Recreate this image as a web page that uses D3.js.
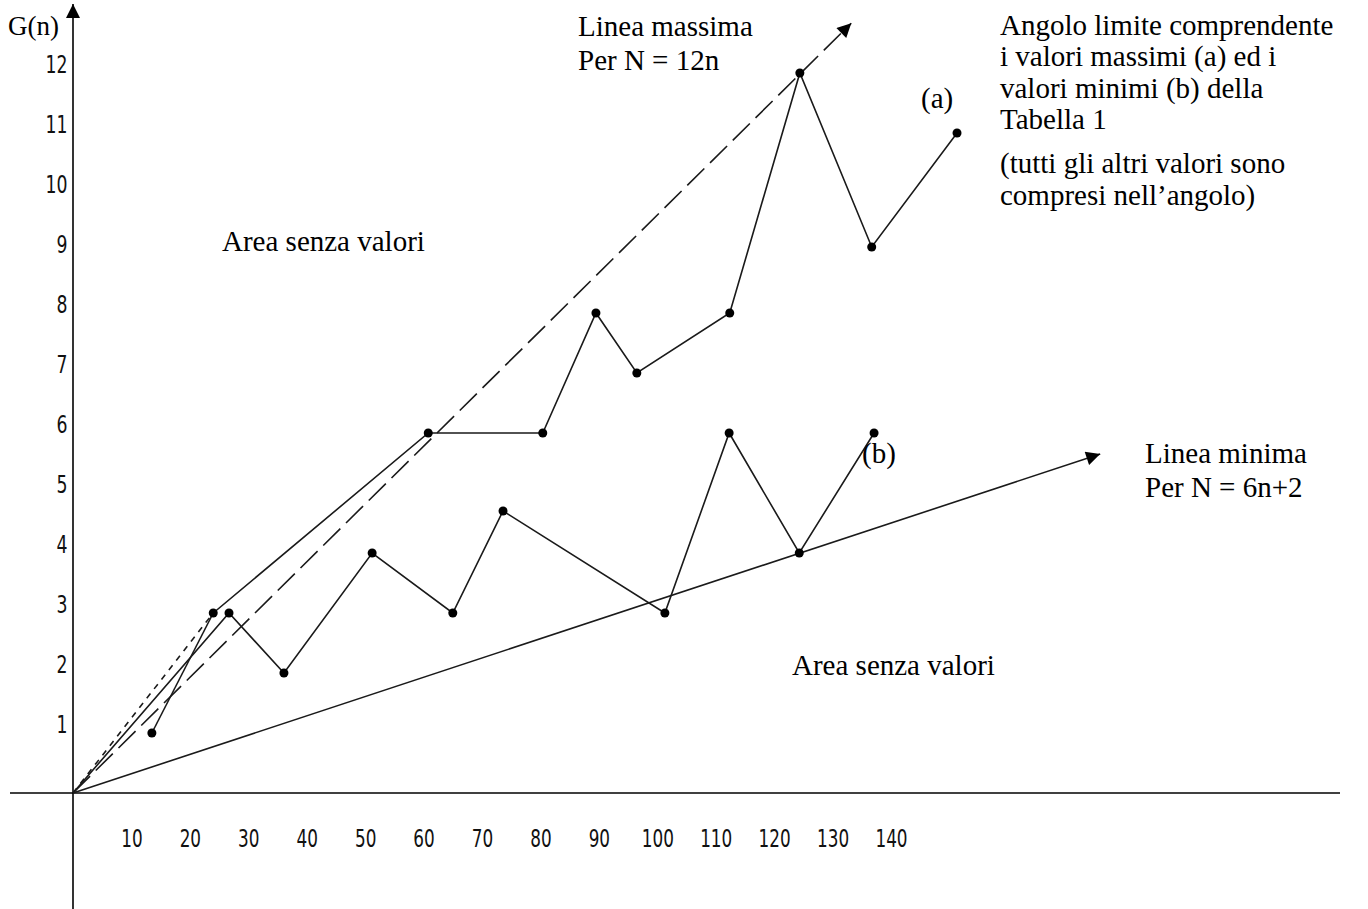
<!DOCTYPE html>
<html lang="it">
<head>
<meta charset="UTF-8">
<title>G(n) - Angolo limite</title>
<style>
  body { margin: 0; background: #fff; }
  .serie { fill: none; stroke: #1a1a1a; stroke-width: 1.6px; }
  .punto { fill: #000; }
  .tick text { font-family: 'DejaVu Sans Condensed', 'DejaVu Sans', sans-serif; font-size: 24px; fill: #111; }
  .nota { font-family: 'Liberation Serif', 'Times New Roman', serif; font-size: 29px; fill: #000; }
</style>
</head>
<body>
<svg id="grafico" width="1368" height="909"></svg>
<script src="https://d3js.org/d3.v7.min.js"></script>
<script>
// valori
const xTicks = [10, 20, 30, 40, 50, 60, 70, 80, 90, 100, 110, 120, 130, 140];
const yTicks = [1, 2, 3, 4, 5, 6, 7, 8, 9, 10, 11, 12];

// valori massimi (a)
const maxN = [24, 60.8, 80.4, 89.5, 96.5, 112.4, 124.4, 136.7, 151.3];
const maxG = [3, 6, 6, 8, 7, 8, 12, 9.1, 11];

// valori minimi (b)
const minN = [26.7, 36.1, 51.2, 65, 73.6, 101.3, 112.3, 124.3, 137.1];
const minG = [3, 2, 4, 3, 4.7, 3, 6, 4, 6];

// primo tratto
const startN = [13.5, 24];
const startG = [1, 3];

// linee limite (fine freccia)
const lineaMassima = [133.2, 12.83];
const lineaMinima = [175.8, 5.65];

const svg = d3.select('#grafico');

const x = d3.scaleLinear().domain([0, 140]).range([73, 891]);
const y = d3.scaleLinear().domain([0, 12]).range([793, 73]);

const defs = svg.append('defs');
defs.append('marker')
  .attr('id', 'freccia')
  .attr('viewBox', '0 0 10 10')
  .attr('refX', 10).attr('refY', 5)
  .attr('markerUnits', 'userSpaceOnUse')
  .attr('markerWidth', 17).attr('markerHeight', 14)
  .attr('orient', 'auto')
  .append('path').attr('d', 'M0,0 L10,5 L0,10 Z').attr('fill', '#000');

// assi
svg.append('line')
  .attr('x1', 10).attr('x2', 1340)
  .attr('y1', y(0)).attr('y2', y(0))
  .attr('stroke', '#000').attr('stroke-width', 1.6);

svg.append('line')
  .attr('x1', x(0)).attr('x2', x(0))
  .attr('y1', 909).attr('y2', y(13.15))
  .attr('stroke', '#000').attr('stroke-width', 1.6)
  .attr('marker-end', 'url(#freccia)');

const xAxis = svg.append('g')
  .attr('transform', `translate(0,${y(0)})`)
  .call(d3.axisBottom(x).tickValues(xTicks).tickSize(0).tickPadding(37).tickFormat(d3.format('d')));
xAxis.select('.domain').remove();
xAxis.selectAll('text').attr('transform', 'scale(0.78,1)');

const yAxis = svg.append('g')
  .attr('transform', `translate(${x(0)},0)`)
  .call(d3.axisLeft(y).tickValues(yTicks).tickSize(0).tickPadding(7).tickFormat(d3.format('d')));
yAxis.select('.domain').remove();
yAxis.selectAll('text').attr('y', -8).attr('transform', 'scale(0.8,1)');

const line = d3.line().x(d => x(d[0])).y(d => y(d[1]));
const origine = [0, 0];

const maxPts = maxN.map((n, i) => [n, maxG[i]]);
const minPts = minN.map((n, i) => [n, minG[i]]);
const startPts = startN.map((n, i) => [n, startG[i]]);

// linea massima (tratteggio lungo)
svg.append('path').attr('class', 'serie')
  .attr('d', line([origine, lineaMassima]))
  .attr('stroke-dasharray', '24,8')
  .attr('marker-end', 'url(#freccia)');

// linea minima
svg.append('path').attr('class', 'serie')
  .attr('d', line([origine, lineaMinima]))
  .attr('marker-end', 'url(#freccia)');

// tratto iniziale dei massimi (tratteggio corto)
svg.append('path').attr('class', 'serie')
  .attr('d', line([origine, maxPts[0]]))
  .attr('stroke-dasharray', '6,6');

svg.append('path').attr('class', 'serie').attr('d', line(maxPts));
svg.append('path').attr('class', 'serie').attr('d', line([origine].concat(minPts)));
svg.append('path').attr('class', 'serie').attr('d', line(startPts));

svg.append('g').selectAll('circle')
  .data(maxPts.concat(minPts, [startPts[0]]))
  .join('circle')
  .attr('class', 'punto')
  .attr('cx', d => x(d[0]))
  .attr('cy', d => y(d[1]))
  .attr('r', 4.5);

// testi
const note = [
  ['G(n)', 8, 35, 27],
  ['Linea massima', 578, 36],
  ['Per N = 12n', 578, 70],
  ['Angolo limite comprendente', 1000, 35],
  ['i valori massimi (a) ed i', 1000, 66],
  ['valori minimi (b) della', 1000, 98],
  ['Tabella 1', 1000, 129],
  ['(tutti gli altri valori sono', 1000, 173],
  ['compresi nell\u2019angolo)', 1000, 205],
  ['(a)', 921, 108],
  ['(b)', 862, 463],
  ['Area senza valori', 222, 251],
  ['Area senza valori', 792, 675],
  ['Linea minima', 1145, 463],
  ['Per N = 6n+2', 1145, 497]
];

svg.append('g').selectAll('text')
  .data(note)
  .join('text')
  .attr('class', 'nota')
  .attr('x', d => d[1])
  .attr('y', d => d[2])
  .style('font-size', d => d[3] ? d[3] + 'px' : null)
  .text(d => d[0]);
</script>
</body>
</html>
